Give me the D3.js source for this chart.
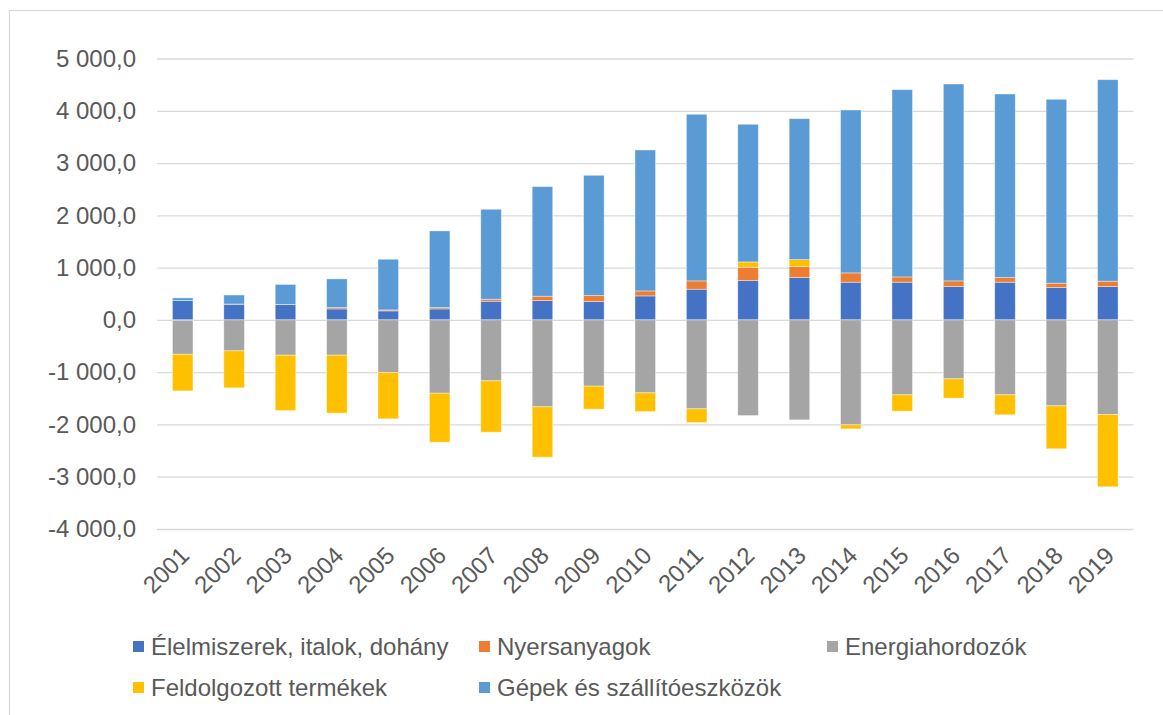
<!DOCTYPE html>
<html>
<head>
<meta charset="utf-8">
<script src="https://cdn.jsdelivr.net/npm/d3@7"></script>
<style>
  html, body { margin: 0; padding: 0; background: #fff; }
  text { font-family: "Liberation Sans", Arial, sans-serif; fill: #595959; }
</style>
</head>
<body>
<svg id="chart" width="1163" height="715"></svg>
<script>
// évek
const years = ['2001', '2002', '2003', '2004', '2005', '2006', '2007', '2008', '2009', '2010',
    '2011', '2012', '2013', '2014', '2015', '2016', '2017', '2018', '2019'];

// termékcsoportok szerinti egyenleg
const elelmiszer = [370, 300, 293, 210, 172, 210, 357, 369, 350, 459, 587, 751, 809, 721, 721, 637, 721, 618, 637];
const nyersanyag = [-8, 4, 3, 25, 19, 25, 39, 84, 115, 95, 159, 256, 210, 178, 101, 109, 88, 84, 103];
const energia = [-650, -593, -675, -675, -1007, -1402, -1166, -1664, -1268, -1396, -1702, -1830, -1912, -2008, -1434, -1128, -1434, -1644, -1811];
const feldolgozott = [-700, -707, -1059, -1109, -886, -937, -982, -962, -440, -357, -261, 102, 134, -76, -312, -369, -382, -822, -1382];
const gepek = [51, 172, 382, 549, 969, 1467, 1720, 2096, 2301, 2696, 3187, 2633, 2696, 3116, 3582, 3766, 3512, 3518, 3855];

const yTicks = [-4000, -3000, -2000, -1000, 0, 1000, 2000, 3000, 4000, 5000];

const series = [
    { key: 'Élelmiszerek, italok, dohány', values: elelmiszer, color: '#4472C4' },
    { key: 'Nyersanyagok', values: nyersanyag, color: '#ED7D31' },
    { key: 'Energiahordozók', values: energia, color: '#A5A5A5' },
    { key: 'Feldolgozott termékek', values: feldolgozott, color: '#FFC000' },
    { key: 'Gépek és szállítóeszközök', values: gepek, color: '#5B9BD5' },
];

const rows = years.map((y, i) => {
    const row = { year: y };
    series.forEach(s => { row[s.key] = s.values[i]; });
    return row;
});

const svg = d3.select('#chart');

// keret
svg.append('rect')
    .attr('x', 9.5).attr('y', 10.5)
    .attr('width', 1200).attr('height', 800)
    .attr('fill', 'none')
    .attr('stroke', '#D9D9D9')
    .attr('stroke-width', 1.3);

const x = d3.scaleBand()
    .domain(years)
    .range([157, 1133.5])
    .paddingInner(0.6)
    .paddingOuter(0.3);

const y = d3.scaleLinear()
    .domain([-4000, 5000])
    .range([529, 58.5]);

const hu = d3.formatLocale({ decimal: ',', thousands: ' ', grouping: [3], currency: ['', ''], minus: '-' });
const fmt = hu.format(',.1f');

// rácsvonalak
const yAxis = svg.append('g')
    .attr('transform', 'translate(157,0)')
    .call(d3.axisLeft(y).tickValues(yTicks).tickFormat(fmt).tickSize(-976.5).tickPadding(21));
yAxis.select('.domain').remove();
yAxis.selectAll('.tick line').attr('stroke', '#D9D9D9').attr('stroke-width', 1.3);
yAxis.selectAll('.tick text')
    .style('font-size', '24px')
    .attr('fill', '#595959');

const stack = d3.stack()
    .keys(series.map(s => s.key))
    .offset(d3.stackOffsetDiverging);
const stacked = stack(rows);

svg.append('g')
    .selectAll('g')
    .data(stacked)
    .join('g')
    .attr('fill', (d, i) => series[i].color)
    .selectAll('rect')
    .data(d => d)
    .join('rect')
    .attr('x', d => x(d.data.year))
    .attr('width', x.bandwidth())
    .attr('y', d => y(Math.max(d[0], d[1])))
    .attr('height', d => Math.abs(y(d[0]) - y(d[1])))
    .attr('stroke', '#fff')
    .attr('stroke-opacity', 0.5)
    .attr('stroke-width', 0.8);

// x tengely feliratok
svg.append('g')
    .selectAll('text')
    .data(years)
    .join('text')
    .attr('transform', d => `translate(${x(d) + x.bandwidth() / 2 + 8},${557}) rotate(-45)`)
    .attr('text-anchor', 'end')
    .style('font-size', '24px')
    .text(d => d);

// jelmagyarázat
const legendPos = [
    { x: 133, y: 646.5 },
    { x: 479, y: 646.5 },
    { x: 827, y: 646.5 },
    { x: 133, y: 687.5 },
    { x: 479, y: 687.5 },
];
const legend = svg.append('g')
    .selectAll('g')
    .data(series)
    .join('g')
    .attr('transform', (d, i) => `translate(${legendPos[i].x},${legendPos[i].y})`);
legend.append('rect')
    .attr('x', 0).attr('y', -5.5)
    .attr('width', 11).attr('height', 11)
    .attr('fill', d => d.color);
legend.append('text')
    .attr('x', 18)
    .attr('dy', '0.35em')
    .style('font-size', '24px')
    .text(d => d.key);
</script>
</body>
</html>
